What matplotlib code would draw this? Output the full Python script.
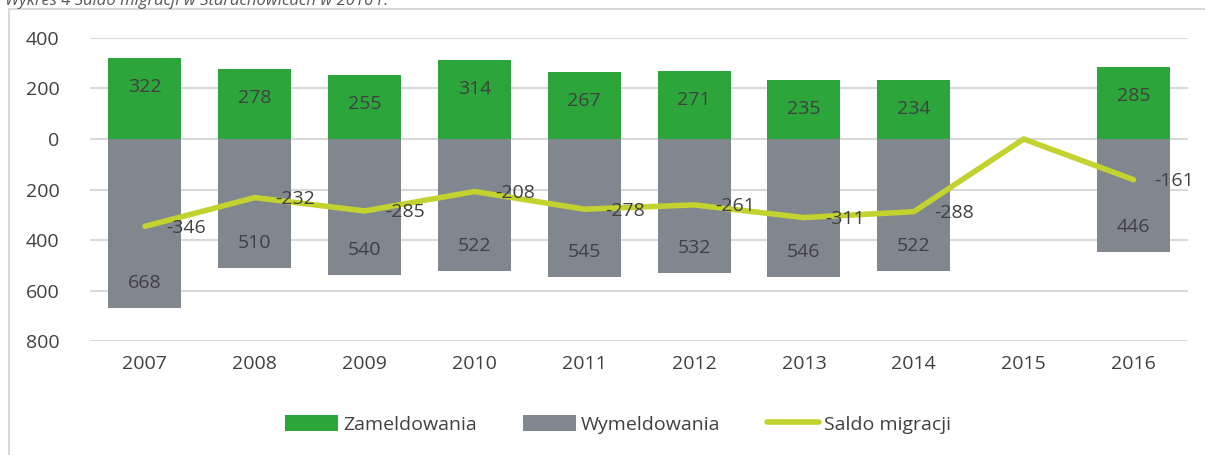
import numpy as np
import matplotlib.pyplot as plt
from matplotlib.patches import Rectangle
from matplotlib.ticker import FuncFormatter

# Data
years = ["2007", "2008", "2009", "2010", "2011", "2012", "2013", "2014", "2015", "2016"]
zameldowania = [322, 278, 255, 314, 267, 271, 235, 234, np.nan, 285]
wymeldowania = [668, 510, 540, 522, 545, 532, 546, 522, np.nan, 446]
saldo = [-346, -232, -285, -208, -278, -261, -311, -288, 0, -161]

GREEN = "#2ca63a"
GRAY = "#80878e"
LIME = "#c3d22f"
TEXT = "#404040"
GRID = "#d9d9d9"
FS = 14

plt.rcParams["font.family"] = ["Open Sans", "DejaVu Sans"]

fig = plt.figure(figsize=(12.05, 4.55), dpi=100)
ax = fig.add_axes([0.0747, 0.2505, 0.9115, 0.666])

# outer chart frame (runs off the right and bottom edge)
fig.patches.append(Rectangle((9 / 1205, -0.05), 1.2, 1 - 9 / 455 + 0.05,
                             transform=fig.transFigure, fill=False,
                             edgecolor=GRID, linewidth=1.5))

# title, cut off by the top edge like in the source
fig.text(0.004, 1 - 5 / 455, "Wykres 4 Saldo migracji w Starachowicach w 2016 r.",
         fontsize=12, style="italic", color="#595959", va="baseline", ha="left")

x = np.arange(len(years))
w = 0.665
ax.bar(x, zameldowania, w, color=GREEN, label="Zameldowania", zorder=2)
ax.bar(x, [-v for v in wymeldowania], w, color=GRAY, label="Wymeldowania", zorder=2)
ax.plot(x, saldo, color=LIME, linewidth=4, label="Saldo migracji", zorder=3,
        solid_capstyle="round")

for i in range(len(years)):
    z = zameldowania[i]
    if not np.isnan(z):
        ax.annotate(f"{z:.0f}", (x[i], z), xytext=(0, -21), textcoords="offset points",
                    ha="center", va="center", fontsize=FS, color=TEXT, zorder=4)
    wv = wymeldowania[i]
    if not np.isnan(wv):
        ax.annotate(f"{wv:.0f}", (x[i], -wv), xytext=(0, 18), textcoords="offset points",
                    ha="center", va="center", fontsize=FS, color=TEXT, zorder=4)
    if saldo[i] != 0:
        ax.annotate(f"{saldo[i]}", (x[i], saldo[i]), xytext=(15, -1), textcoords="offset points",
                    ha="left", va="center", fontsize=FS, color=TEXT, zorder=4)

ax.set_xlim(-0.5, len(years) - 0.5)
ax.set_ylim(-800, 400)
ax.set_yticks(range(-800, 401, 200))
ax.yaxis.set_major_formatter(FuncFormatter(lambda v, p: f"{abs(v):.0f}"))
ax.set_xticks(x)
ax.set_xticklabels(years)
ax.tick_params(length=0, labelsize=FS, labelcolor=TEXT, pad=10)
ax.tick_params(axis="y", pad=22)
ax.grid(axis="y", color=GRID, linewidth=1.5, zorder=0)
for s in ax.spines.values():
    s.set_visible(False)

h, l = ax.get_legend_handles_labels()
order = [l.index("Zameldowania"), l.index("Wymeldowania"), l.index("Saldo migracji")]
ax.legend([h[k] for k in order], [l[k] for k in order],
          loc="center", bbox_to_anchor=(0.481, -0.274), ncol=3, frameon=False,
          fontsize=FS, labelcolor=TEXT, handlelength=2.7, handleheight=0.95,
          handletextpad=0.25, columnspacing=2.4)

fig.savefig("out.png", dpi=100)
